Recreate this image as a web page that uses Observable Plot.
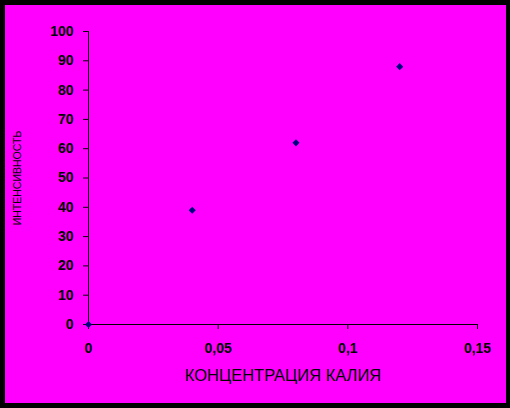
<!DOCTYPE html>
<html>
<head>
<meta charset="utf-8">
<script src="https://cdn.jsdelivr.net/npm/d3@7"></script>
<script src="https://cdn.jsdelivr.net/npm/@observablehq/plot@0.6"></script>
<style>
  html, body { margin: 0; padding: 0; background: #000; }
  #wrap { position: relative; width: 510px; height: 408px; background: #000; }
  #panel { position: absolute; left: 5px; top: 5px; width: 501px; height: 398px; background: #ff00ff; }
  #chart { position: absolute; left: 0; top: 0; }
</style>
</head>
<body>
<div id="wrap"><div id="panel"></div><div id="chart"></div></div>
<script>
const concentration = [0, 0.04, 0.08, 0.12];
const values = [0, 39, 62, 88];
const xTicks = [0, 0.05, 0.1, 0.15];
const yTicks = [0, 10, 20, 30, 40, 50, 60, 70, 80, 90, 100];
const xLabel = "КОНЦЕНТРАЦИЯ КАЛИЯ";
const yLabel = "ИНТЕНСИВНОСТЬ";

const data = concentration.map((c, i) => ({c, v: values[i]}));
const fmt = d => String(d).replace(".", ",");

const chart = Plot.plot({
  width: 510,
  height: 408,
  marginLeft: 88,
  marginRight: 33,
  marginTop: 31,
  marginBottom: 84,
  style: {background: "transparent", fontFamily: "Arial, 'Liberation Sans', sans-serif", fontSize: "14px", color: "#000"},
  x: {domain: [0, 0.15]},
  y: {domain: [0, 100]},
  marks: [
    Plot.axisX({ticks: xTicks, tickFormat: fmt, tickSize: 5, tickPadding: 14, fontWeight: "bold", fontSize: 14, label: null}),
    Plot.axisX({ticks: [], tickSize: 0, fontSize: 16.5, fontWeight: "normal",
      label: xLabel, labelAnchor: "center", labelArrow: "none", labelOffset: 56}),
    Plot.axisY({ticks: yTicks, tickFormat: fmt, tickSize: 5, tickPadding: 10, fontWeight: "bold", fontSize: 14, label: null}),
    Plot.axisY({ticks: [], tickSize: 0, fontSize: 10.5, fontWeight: "normal",
      label: yLabel, labelAnchor: "center", labelArrow: "none", labelOffset: 75}),
    Plot.ruleX([0], {stroke: "#000"}),
    Plot.ruleY([0], {stroke: "#000"}),
    Plot.dot(data, {x: "c", y: "v", symbol: "diamond2", r: 3.2, fill: "#000080", stroke: "none"})
  ]
});
document.getElementById("chart").appendChild(chart);
</script>
</body>
</html>
